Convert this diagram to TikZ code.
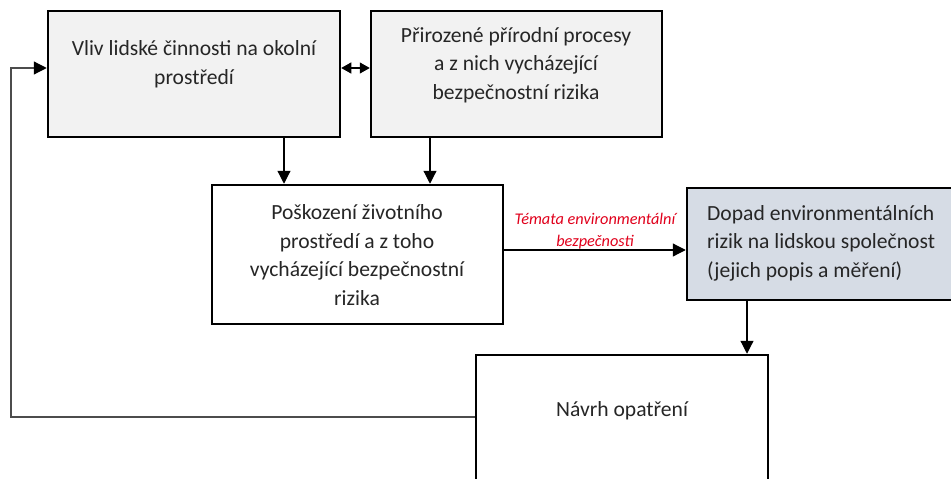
\documentclass[tikz,border=0pt]{standalone}
\usepackage{fontspec}
\setmainfont{Carlito}
\usetikzlibrary{arrows.meta}
\definecolor{boxgray}{HTML}{F2F2F2}
\definecolor{boxblue}{HTML}{D6DCE5}
\definecolor{txtgray}{HTML}{262626}
\definecolor{topicred}{HTML}{E0001B}
\begin{document}
\begin{tikzpicture}[x=1pt,y=-1pt,
  box/.style={draw=black,line width=2.5pt,rectangle,inner sep=0pt},
  txt/.style={font=\fontsize{21.6}{28.5}\selectfont,text=txtgray,align=center,inner sep=0pt},
  link/.style={draw=black,line width=1.2pt,-{Triangle[length=13pt,width=13pt,color=black]}},
  twoway/.style={draw=black,line width=1.2pt,{Triangle[length=10pt,width=11pt]}-{Triangle[length=10pt,width=11pt]}}]
\useasboundingbox (0,0) rectangle (951,479);
\clip (0,0) rectangle (951,479);

% boxes
\node[box,fill=boxgray,minimum width=292pt,minimum height=126pt] (vliv) at (194,74) {};
\node[box,fill=boxgray,minimum width=291pt,minimum height=126pt] (prir) at (516.5,74) {};
\node[box,fill=white,minimum width=291pt,minimum height=139pt] (posk) at (357.5,254.5) {};
\node[box,fill=boxblue,minimum width=273pt,minimum height=112pt] (dopad) at (823.5,244) {};
\node[box,fill=white,minimum width=292pt,minimum height=135pt] (navrh) at (622,422.5) {};

% texts
\node[txt] (tvliv) at (194,64) {Vliv lidské činnosti na okolní\\prostředí};
\node[txt] (tprir) at (516,65) {Přirozené přírodní procesy\\a z nich vycházející\\bezpečnostní rizika};
\node[txt] (tposk) at (357,255) {Poškození životního\\prostředí a z toho\\vycházející bezpečnostní\\rizika};
\node[txt,align=left,anchor=west] (tdopad) at (707,243) {Dopad environmentálních\\rizik na lidskou společnost\\(jejich popis a měření)};
\node[txt] (tnavrh) at (622,411) {Návrh opatření};

% connectors
\draw[twoway] (vliv.east |- 0,68) -- (prir.west |- 0,68);
\draw[link] (vliv.south -| 284,0) -- (posk.north -| 284,0);
\draw[link] (prir.south -| 430,0) -- (posk.north -| 430,0);
\draw[link] (posk.east |- 0,250) -- node[above=0pt,font=\fontsize{16.3}{22}\selectfont\itshape,text=topicred,align=center,inner sep=0pt] (tema) {Témata environmentální\\bezpečnosti} (dopad.west |- 0,250);
\draw[link] (dopad.south -| 747,0) -- (navrh.north -| 747,0);
\coordinate (loopcorner) at (11,417);
\draw[link,draw=black!70] (navrh.west |- 0,417) -- (loopcorner) -- (11,68) -- (vliv.west |- 0,68);
\end{tikzpicture}
\end{document}
